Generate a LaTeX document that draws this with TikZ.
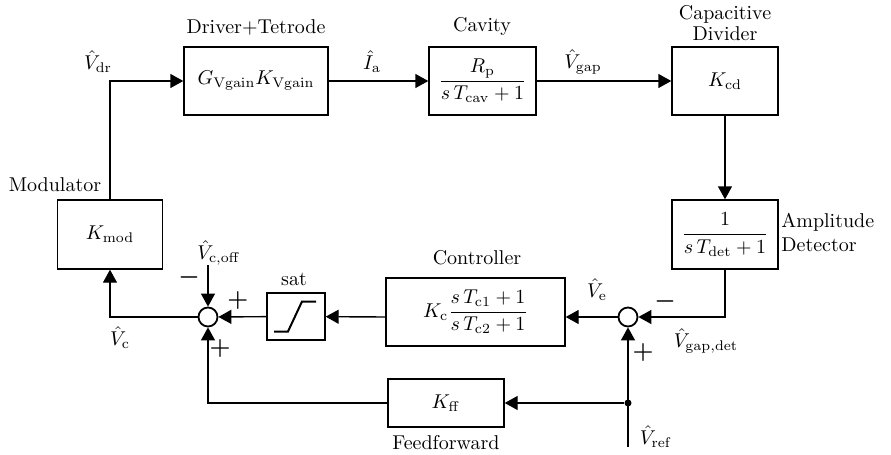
\documentclass[tikz,border=0pt]{standalone}
\usepackage{amsmath,amssymb}
\usetikzlibrary{arrows.meta}

\begin{document}
\begin{tikzpicture}[x=0.5pt,y=-0.5pt]
\tikzset{
  block/.style={rectangle,draw=black,line width=0.7pt,inner sep=1pt},
  sumnode/.style={circle,draw=black,line width=0.9pt,minimum size=9.5pt,inner sep=0pt},
  dotnode/.style={circle,fill=black,minimum size=3.5pt,inner sep=0pt},
  signal/.style={draw=black,line width=0.7pt,-{Triangle[length=6.5pt,width=7pt]}},
  wire/.style={draw=black,line width=0.7pt},
  lbl/.style={inner sep=0pt},
  sign/.style={inner sep=0pt,font=\large\boldmath}
}
\useasboundingbox (0,0) rectangle (891,455);
% blocks
\node[block,minimum width=72pt,minimum height=34pt] (n_drv) at (256,81) {$G_{\mathrm{Vgain}}K_{\mathrm{Vgain}}$};
\node[block,minimum width=53.5pt,minimum height=34pt] (n_cav) at (482.5,81) {$\dfrac{R_{\mathrm{p}}}{s\,T_{\mathrm{cav}}+1}$};
\node[block,minimum width=53pt,minimum height=34pt] (n_cd) at (725,81) {$K_{\mathrm{cd}}$};
\node[block,minimum width=53pt,minimum height=34.5pt] (n_det) at (725,234.5) {$\dfrac{1}{s\,T_{\mathrm{det}}+1}$};
\node[block,minimum width=52.5pt,minimum height=34.5pt] (n_mod) at (110,234.5) {$K_{\mathrm{mod}}$};
\node[block,minimum width=89.5pt,minimum height=34pt] (n_ctrl) at (475.5,312) {$K_{\mathrm{c}}\dfrac{s\,T_{\mathrm{c1}}+1}{s\,T_{\mathrm{c2}}+1}$};
\node[block,minimum width=29pt,minimum height=23.5pt] (n_sat) at (296,316.5) {};
\node[block,minimum width=58pt,minimum height=24pt] (n_ff) at (446,403) {$K_{\mathrm{ff}}$};
% junctions
\node[sumnode] (n_sumL) at (208,317) {};
\node[sumnode] (n_sumR) at (628,317) {};
\node[dotnode] (n_br) at (628,403) {};
\coordinate (c_off) at (208,265);
\coordinate (c_ref) at (628,447);
% saturation curve
\draw[line width=1pt,shift={(n_sat.center)}] (-22,15) -- (-8,15) -- (6,-15) -- (20,-15);
% block titles
\node[lbl] (t_drv) at (256,27) {Driver+Tetrode};
\node[lbl] (t_cav) at (482,27) {Cavity};
\node[lbl,align=center] (t_cd) at (725,23) {Capacitive\\[-1.5pt]Divider};
\node[lbl,align=left,anchor=west] (t_det) at (781,232) {Amplitude\\Detector};
\node[lbl] (t_mod) at (55,185) {Modulator};
\node[lbl] (t_ctrl) at (477,258) {Controller};
\node[lbl] (t_sat) at (294,279) {sat};
\node[lbl] (t_ff) at (446,443) {Feedforward};
% signal labels
\node[lbl] (s_dr) at (98,62) {$\hat{V}_{\mathrm{dr}}$};
\node[lbl] (s_a) at (372,62) {$\hat{I}_{\mathrm{a}}$};
\node[lbl] (s_gap) at (583,62) {$\hat{V}_{\mathrm{gap}}$};
\node[lbl] (s_off) at (219,253) {$\hat{V}_{\mathrm{c,off}}$};
\node[lbl] (s_c) at (120,338) {$\hat{V}_{\mathrm{c}}$};
\node[lbl] (s_e) at (597,290) {$\hat{V}_{\mathrm{e}}$};
\node[lbl] (s_gapdet) at (706,341) {$\hat{V}_{\mathrm{gap,det}}$};
\node[lbl] (s_ref) at (656,437) {$\hat{V}_{\mathrm{ref}}$};
% signs
\node[sign] (g_offm) at (189,277) {$-$};
\node[sign] (g_satp) at (238,300) {$+$};
\node[sign] (g_ffp) at (220,348) {$+$};
\node[sign] (g_detm) at (665,301) {$-$};
\node[sign] (g_refp) at (643,352) {$+$};
% connections
\draw[signal] (n_mod.north) |- (n_drv.west);
\draw[signal] (n_drv) -- (n_cav);
\draw[signal] (n_cav) -- (n_cd);
\draw[signal] (n_cd) -- (n_det);
\draw[signal] (n_det.south) |- (n_sumR);
\draw[signal] (n_sumR) -- (n_sumR -| n_ctrl.east);
\draw[signal] (n_ctrl.west |- n_sumR) -- (n_sat);
\draw[signal] (n_sat) -- (n_sumL);
\draw[signal] (n_sumL) -| (n_mod.south);
\draw[signal] (c_off) -- (n_sumL);
\draw[wire] (c_ref) -- (n_br.center);
\draw[signal] (n_br.center) -- (n_sumR);
\draw[signal] (n_br) -- (n_ff);
\draw[signal] (n_ff) -| (n_sumL);
\end{tikzpicture}
\end{document}
